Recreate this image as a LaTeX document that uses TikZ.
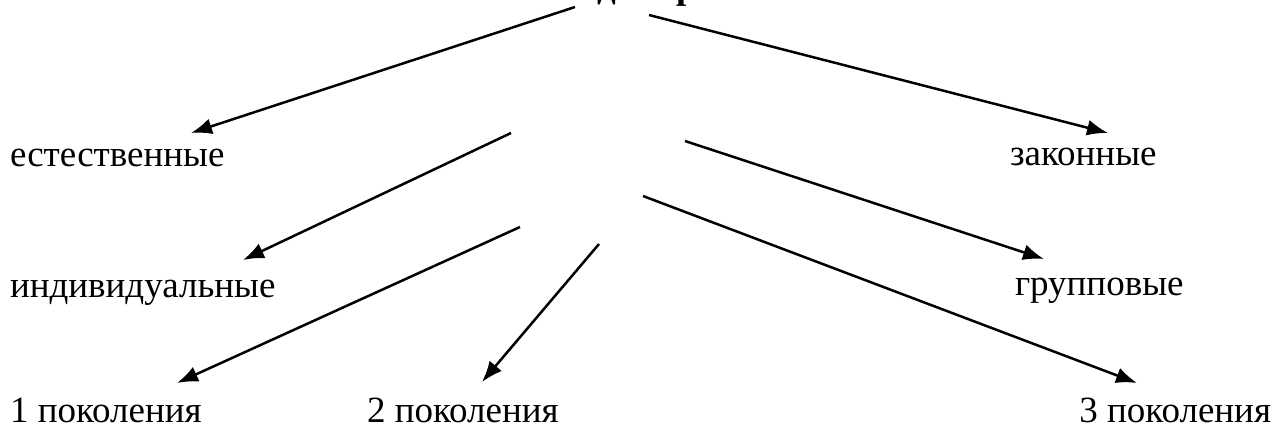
\documentclass[tikz,border=0pt]{standalone}
\usepackage{fontspec}
\setmainfont{Liberation Serif}
\usetikzlibrary{arrows.meta}
\tikzset{
  lbl/.style={inner sep=0pt, outer sep=0pt, font=\fontsize{37}{40}\selectfont},
  head/.style={inner sep=0pt, outer sep=0pt, font=\fontsize{37}{40}\selectfont\bfseries},
  arr/.style={line width=2.5pt, -{Latex[length=21pt,width=16pt]}}
}
\begin{document}
\begin{tikzpicture}[x=1pt,y=-1pt]
\useasboundingbox (0,0) rectangle (1274,428);
% heading (only its descenders show in the picture)
\node[head, anchor=base west] (h) at (552,-1) {Виды прав};
% labels
\node[lbl, anchor=base west] (est) at (10,166) {естественные};
\node[lbl, anchor=base west] (zak) at (1010,165) {законные};
\node[lbl, anchor=base west] (ind) at (10,297) {индивидуальные};
\node[lbl, anchor=base west] (grp) at (1015,295) {групповые};
\node[lbl, anchor=base west] (p1) at (10,422) {1 поколения};
\node[lbl, anchor=base west] (p2) at (367,422) {2 поколения};
\node[lbl, anchor=base east] (p3) at (1271,422) {3 поколения};
% arrow ends
\coordinate (s1) at (575,7);   \coordinate (t1) at (191,133);
\coordinate (s2) at (649,15);  \coordinate (t2) at (1108,133);
\coordinate (s3) at (511,133); \coordinate (t3) at (243,260);
\coordinate (s4) at (685,141); \coordinate (t4) at (1044,259);
\coordinate (s5) at (520,227); \coordinate (t5) at (177,383);
\coordinate (s6) at (599,244); \coordinate (t6) at (482,382);
\coordinate (s7) at (643,196); \coordinate (t7) at (1137,383);
\draw[arr] (s1) -- (t1);
\draw[arr] (s2) -- (t2);
\draw[arr] (s3) -- (t3);
\draw[arr] (s4) -- (t4);
\draw[arr] (s5) -- (t5);
\draw[arr] (s6) -- (t6);
\draw[arr] (s7) -- (t7);
\end{tikzpicture}
\end{document}
